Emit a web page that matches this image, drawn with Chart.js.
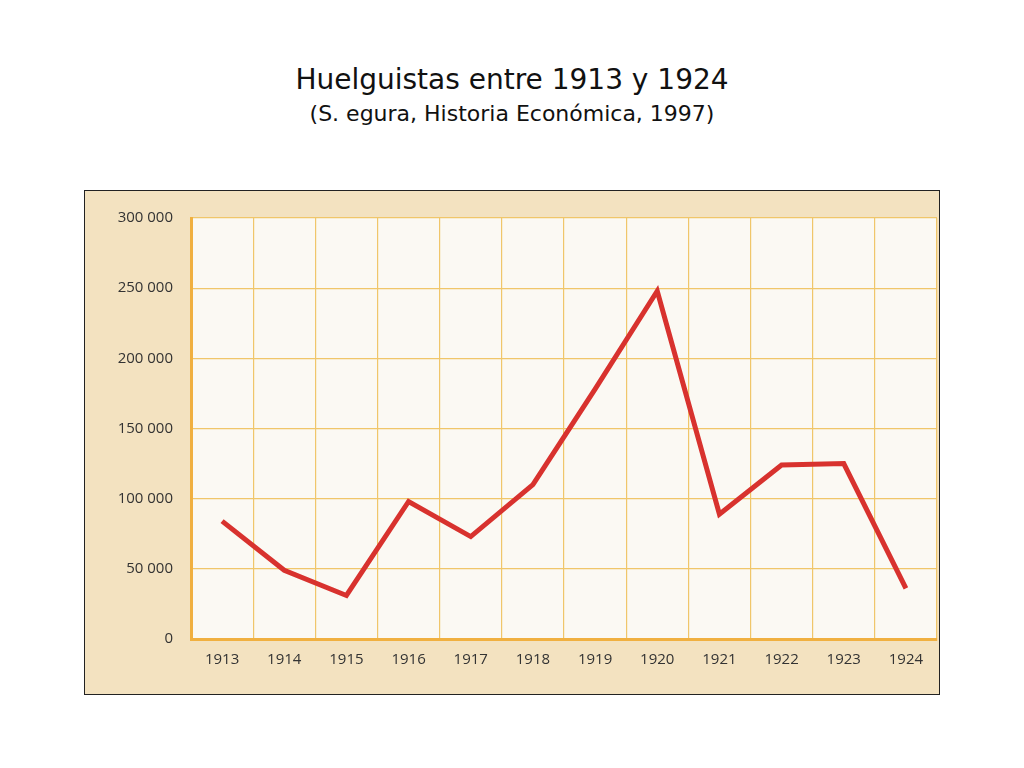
<!DOCTYPE html>
<html><head><meta charset="utf-8">
<script src="https://cdn.jsdelivr.net/npm/chart.js"></script>
<style>
body{margin:0;background:#fff;width:1024px;height:768px;position:relative;font-family:"DejaVu Sans",sans-serif;}
#t{position:absolute;top:61px;left:0;width:1024px;text-align:center;color:#111;}
#t1{font-size:28px;line-height:38px;}
#t2{font-size:22px;line-height:30px;}
#box{position:absolute;left:84px;top:190px;width:856px;height:505px;background:#f3e2c0;border:1px solid #222;box-sizing:border-box;}
</style></head><body>
<div id="t"><div id="t1">Huelguistas entre 1913 y 1924</div><div id="t2">(S. egura, Historia Económica, 1997)</div></div>
<div id="box"><canvas id="c" width="854" height="503"></canvas></div>
<script>
const years=["1913","1914","1915","1916","1917","1918","1919","1920","1921","1922","1923","1924"];
const strikers=[84000,49000,31000,98000,73000,110000,178000,248000,89000,124000,125000,36000];
const yTicks=[0,50000,100000,150000,200000,250000,300000];
const bg={id:'bg',beforeDraw(c){const a=c.chartArea,x=c.ctx;x.save();x.fillStyle='#fbf9f3';x.fillRect(a.left,a.top,a.right-a.left,a.bottom-a.top);x.restore();}};
new Chart(document.getElementById('c'),{type:'line',
data:{labels:years,datasets:[{data:strikers,borderColor:'#d8322e',borderWidth:5,pointRadius:0,tension:0,fill:false}]},
options:{responsive:false,animation:false,layout:{padding:{top:19,right:2}},
plugins:{legend:{display:false},tooltip:{enabled:false}},
scales:{
x:{offset:true,grid:{color:'#f0c66a',lineWidth:1.2,offset:true,drawTicks:false},border:{color:'#f0b040',width:3},
 ticks:{color:'#333',font:{family:'Open Sans',size:15},padding:12},afterFit(s){s.height=55;}},
y:{min:0,max:300000,afterBuildTicks(s){s.ticks=yTicks.map(v=>({value:v}));},
 grid:{color:'#f0c66a',lineWidth:1.2,drawTicks:false},border:{color:'#f0b040',width:3},
 ticks:{color:'#333',font:{family:'Open Sans',size:15},padding:18,callback:v=>v===0?'0':String(v).replace(/\B(?=(\d{3})+(?!\d))/g,' ')},
 afterFit(s){s.width=106;}}
}},plugins:[bg]});
</script></body></html>
